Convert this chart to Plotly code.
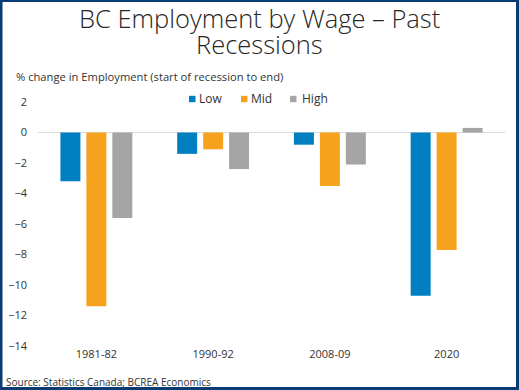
import plotly.graph_objects as go

categories = ["1981-82", "1990-92", "2008-09", "2020"]
low = [-3.2, -1.4, -0.8, -10.7]
mid = [-11.4, -1.1, -3.5, -7.7]
high = [-5.6, -2.4, -2.1, 0.3]
series_names = ["Low", "Mid", "High"]
colors = ["#0080C0", "#F7A21F", "#A5A5A5"]
y_ticks = [2, 0, -2, -4, -6, -8, -10, -12, -14]
title_lines = ["BC Employment by Wage – Past", "Recessions"]

W, H = 519, 390
ML, MR, MT, MB = 38, 14, 102, 44
pw, ph = W - ML - MR, H - MT - MB


def px_x(v):
    return (v - ML) / pw


def px_y(v):
    return 1 - (v - MT) / ph


fig = go.Figure()
for name, vals, col in zip(series_names, [low, mid, high], colors):
    fig.add_trace(go.Bar(x=categories, y=vals, name=name, marker_color=col,
                         marker_line_width=0, showlegend=False))

font_family = "Open Sans, Noto Sans, sans-serif"
fig.update_layout(
    width=W, height=H,
    margin=dict(l=ML, r=MR, t=MT, b=MB, pad=0, autoexpand=False),
    paper_bgcolor="white", plot_bgcolor="white",
    barmode="group", bargap=0.333, bargroupgap=0.23,
    font=dict(family=font_family, size=11, color="#333333"),
    xaxis=dict(showgrid=False, showline=False, zeroline=False, ticks="",
               tickangle=0, tickfont=dict(size=11, color="#333333")),
    yaxis=dict(range=[-14, 2], tickvals=y_ticks, showgrid=False,
               zeroline=True, zerolinecolor="#D9D9D9", zerolinewidth=1,
               showline=False, ticks="", ticklabelstandoff=10,
               tickfont=dict(size=11, color="#333333")),
)

# two-line title
for line, yc in zip(title_lines, [18, 44]):
    fig.add_annotation(text=line, xref="paper", yref="paper", x=px_x(259),
                       y=px_y(yc), xanchor="center", yanchor="middle",
                       showarrow=False,
                       font=dict(size=25.5, color="#262626", family=font_family,
                                 weight=300))

# legend: small colour squares with labels
legend_square_x = [189, 241, 290]
legend_text_x = [197, 249, 300]
legend_y = 99
for name, col, sx, tx in zip(series_names, colors, legend_square_x, legend_text_x):
    fig.add_shape(type="rect", xref="paper", yref="paper",
                  x0=px_x(sx), x1=px_x(sx + 6.5), y0=px_y(legend_y + 3.2),
                  y1=px_y(legend_y - 3.2), line_width=0, fillcolor=col)
    fig.add_annotation(text=name, xref="paper", yref="paper", x=px_x(tx),
                       y=px_y(legend_y), xanchor="left", yanchor="middle",
                       showarrow=False, font=dict(size=12, color="#333333"))

fig.add_annotation(text="% change in Employment (start of recession to end)",
                   xref="paper", yref="paper", x=px_x(14),
                   y=px_y(77), xanchor="left", yanchor="middle",
                   showarrow=False, font=dict(size=11.2, color="#333333"))
fig.add_annotation(text="Source: Statistics Canada; BCREA Economics",
                   xref="paper", yref="paper", x=px_x(4),
                   y=px_y(382), xanchor="left", yanchor="middle",
                   showarrow=False, font=dict(size=10, color="#333333",
                                              family="Liberation Sans Narrow, Open Sans, sans-serif"))

# dark blue frame around the image
fig.add_shape(type="rect", xref="paper", yref="paper",
              x0=px_x(1), x1=px_x(W - 1.5), y0=px_y(H - 1.5), y1=px_y(0.5),
              line=dict(color="#0B3B73", width=3), fillcolor="rgba(0,0,0,0)",
              layer="above")

fig.write_html("out.html", config={"displayModeBar": False},
               post_script="document.body.style.margin='0';document.body.style.overflow='hidden';")
